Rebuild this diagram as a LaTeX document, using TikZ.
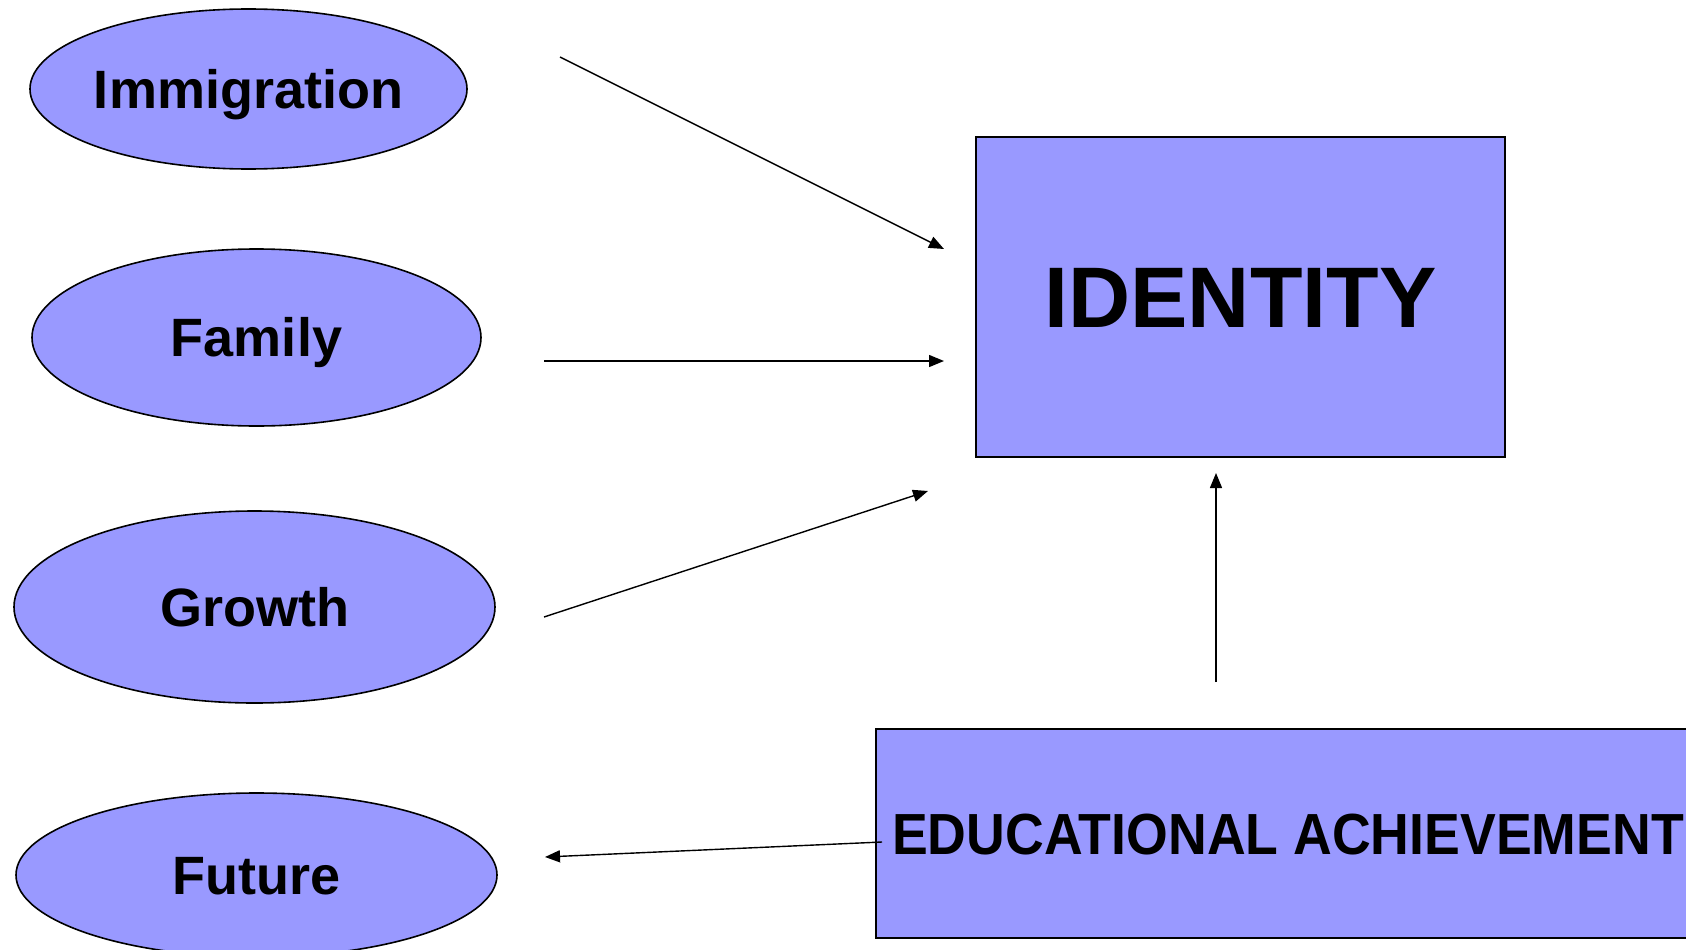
\documentclass[tikz,border=0pt]{standalone}
\usepackage{fontspec}
\setmainfont{Liberation Sans}
\usetikzlibrary{shapes.geometric,arrows.meta}
\definecolor{lav}{HTML}{9999FF}
\tikzset{
  oval/.style={ellipse, draw=black, line width=1.6pt, fill=lav, inner sep=0pt,
    font=\fontsize{54}{60}\selectfont\bfseries, text height=38.7pt, text depth=0pt},
  bigbox/.style={rectangle, draw=black, line width=1.8pt, fill=lav, inner sep=0pt},
  link/.style={line width=1.4pt, -{Triangle[length=15pt,width=12pt]}}
}
\begin{document}
\begin{tikzpicture}[x=1pt,y=-1pt]
\useasboundingbox (0,0) rectangle (1686,950);
\node[oval, minimum width=433pt, minimum height=160pt] (imm) at (248.5,89) {Immigration};
\node[oval, minimum width=449pt, minimum height=177pt] (fam) at (256.5,337.5) {Family};
\node[oval, minimum width=481pt, minimum height=192pt] (gro) at (254.5,607) {Growth};
\node[oval, minimum width=481pt, minimum height=164pt] (fut) at (256.5,875) {Future};
\node[bigbox, minimum width=529pt, minimum height=320pt,
  font=\fontsize{86}{96}\selectfont\bfseries, text height=61.6pt, text depth=0pt] (id) at (1240.5,297) {IDENTITY};
\node[bigbox, minimum width=824pt, minimum height=209pt,
  font=\fontsize{58}{64}\selectfont\bfseries, text height=41.5pt, text depth=0pt] (ea) at (1288,833.5) {\scalebox{0.925}[1]{EDUCATIONAL ACHIEVEMENT}};
\coordinate (a1s) at (560,57);
\coordinate (a1e) at (944,249);
\coordinate (a2s) at (544,361);
\coordinate (a2e) at (944,361);
\coordinate (a3s) at (544,617);
\coordinate (a3e) at (928,491);
\coordinate (a4s) at (1216,682);
\coordinate (a4e) at (1216,473);
\coordinate (a5s) at (882,842);
\coordinate (a5e) at (545,857);
\draw[link] (a1s) -- (a1e);
\draw[link] (a2s) -- (a2e);
\draw[link] (a3s) -- (a3e);
\draw[link] (a4s) -- (a4e);
\draw[link] (a5s) -- (a5e);
\end{tikzpicture}
\end{document}
